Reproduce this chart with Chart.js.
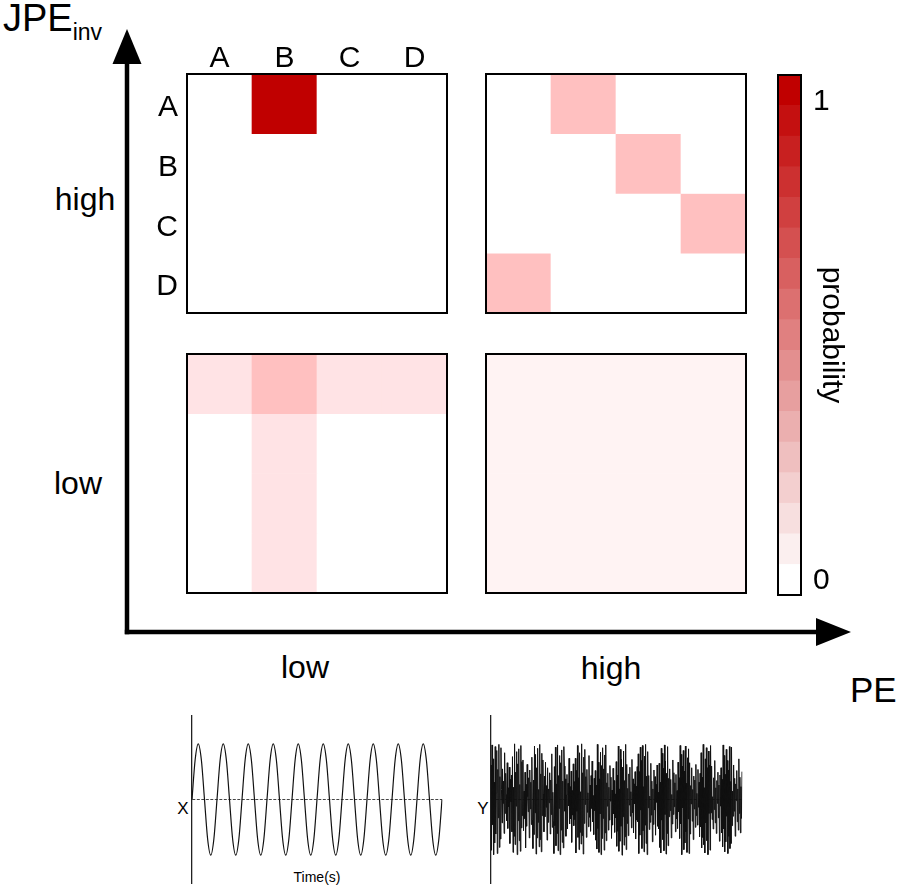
<!DOCTYPE html>
<html>
<head>
<meta charset="utf-8">
<script src="https://cdn.jsdelivr.net/npm/chart.js@4.4.1/dist/chart.umd.min.js"></script>
<style>
  body { margin: 0; background: #fff; }
  #fig { position: relative; width: 902px; height: 888px; overflow: hidden;
         font-family: "Liberation Sans", Arial, sans-serif; color: #000; }
  #fig canvas { position: absolute; }
  .lbl { position: absolute; white-space: nowrap; line-height: 1; transform: translate(-50%, -50%); }
</style>
</head>
<body>
<div id="fig">
  <svg width="902" height="888" style="position:absolute;left:0;top:0">
    <line x1="127" y1="60" x2="127" y2="634.2" stroke="#000" stroke-width="4.5"/>
    <polygon points="127,29 112.5,64 141.5,64" fill="#000"/>
    <line x1="124.8" y1="632" x2="820" y2="632" stroke="#000" stroke-width="4.5"/>
    <polygon points="851,632 816,618 816,646" fill="#000"/>
  </svg>

  <div style="position:absolute;left:3px;top:-1px;font-size:38px;line-height:1;white-space:nowrap">JPE<span style="font-size:23px;vertical-align:-9px">inv</span></div>
  <div class="lbl" style="left:85px;top:199px;font-size:32px">high</div>
  <div class="lbl" style="left:78px;top:483px;font-size:32px">low</div>
  <div class="lbl" style="left:305px;top:667px;font-size:32px">low</div>
  <div class="lbl" style="left:611px;top:668px;font-size:32px">high</div>
  <div style="position:absolute;left:850px;top:672px;font-size:35px;line-height:1">PE</div>
  <div class="lbl" style="left:183px;top:808px;font-size:17px">X</div>
  <div class="lbl" style="left:483px;top:808px;font-size:17px">Y</div>
  <div class="lbl" style="left:317px;top:877px;font-size:14px">Time(s)</div>

  <canvas id="pHighLow" width="309" height="285" style="left:140px;top:30px"></canvas>
  <canvas id="pHighHigh" width="264" height="243" style="left:484px;top:72px"></canvas>
  <canvas id="pLowLow" width="264" height="243" style="left:185px;top:352px"></canvas>
  <canvas id="pLowHigh" width="264" height="243" style="left:484px;top:352px"></canvas>
  <canvas id="colorbar" width="73" height="524" style="left:776px;top:73px"></canvas>
  <canvas id="sine" width="254" height="171" style="left:190px;top:714px"></canvas>
  <canvas id="noise" width="255" height="171" style="left:489px;top:714px"></canvas>
</div>

<script>
// symbols of the ordinal patterns
const colLabels = ['A', 'B', 'C', 'D'];
const rowLabels = ['A', 'B', 'C', 'D'];

// transition probabilities, rows = current pattern, columns = next pattern
const highJpeLowPe = [
  [0, 1, 0, 0],
  [0, 0, 0, 0],
  [0, 0, 0, 0],
  [0, 0, 0, 0]
];
const highJpeHighPe = [
  [0, 0.25, 0, 0],
  [0, 0, 0.25, 0],
  [0, 0, 0, 0.25],
  [0.25, 0, 0, 0]
];
const lowJpeLowPe = [
  [0.125, 0.25, 0.125, 0.125],
  [0, 0.125, 0, 0],
  [0, 0.125, 0, 0],
  [0, 0.125, 0, 0]
];
const lowJpeHighPe = [
  [0.0625, 0.0625, 0.0625, 0.0625],
  [0.0625, 0.0625, 0.0625, 0.0625],
  [0.0625, 0.0625, 0.0625, 0.0625],
  [0.0625, 0.0625, 0.0625, 0.0625]
];

const colorbarLevels = [0, 0.0625, 0.125, 0.1875, 0.25, 0.3125, 0.375, 0.4375, 0.5,
  0.5625, 0.625, 0.6875, 0.75, 0.8125, 0.875, 0.9375, 1];
const colorbarTicks = [0, 1];

// example signals
const signalX = [
  0, 0.71, 1, 0.71, 0, -0.71, -1, -0.71,
  0, 0.71, 1, 0.71, 0, -0.71, -1, -0.71,
  0, 0.71, 1, 0.71, 0, -0.71, -1, -0.71,
  0, 0.71, 1, 0.71, 0, -0.71, -1, -0.71,
  0, 0.71, 1, 0.71, 0, -0.71, -1, -0.71,
  0, 0.71, 1, 0.71, 0, -0.71, -1, -0.71,
  0, 0.71, 1, 0.71, 0, -0.71, -1, -0.71,
  0, 0.71, 1, 0.71, 0, -0.71, -1, -0.71,
  0, 0.71, 1, 0.71, 0, -0.71, -1, -0.71,
  0, 0.71, 1, 0.71, 0, -0.71, -1, -0.71,
  0
];
const signalY = [
  0.62, -0.91, 0.98, -0.45, 0.73, -0.99, 0.31, -0.78, 0.95, -0.62, 0.12, 0.88, -0.97, 0.54, -0.33, 0.99, -0.86, 0.41, -0.71, 0.93,
  0.18, -0.42, 0.55, -0.07, 0.33, -0.61, 0.84, -0.25, 0.47, 0.09, -0.38, 0.66, -0.52, 0.21, -0.13, 0.58, -0.79, 0.36, -0.04, 0.44,
  -0.58, 0.77, -0.95, 0.22, -0.66, 1.0, -0.81, 0.49, -0.12, 0.86, -0.99, 0.64, -0.38, 0.91, -0.74, 0.27, -0.93, 0.97, -0.51, 0.68,
  -0.29, 0.71, -0.56, 0.15, -0.34, 0.49, -0.87, 0.27, -0.48, 0.63, 0.05, -0.22, 0.39, -0.69, 0.53, -0.17, 0.31, -0.45, 0.76, -0.36,
  -0.88, 0.35, -0.63, 0.96, -0.24, 0.81, -0.98, 0.57, -0.69, 0.92, -0.41, 0.18, -0.85, 0.99, -0.72, 0.46, -0.94, 0.83, -0.29, 0.71,
  0.11, -0.58, 0.42, -0.31, 0.67, -0.14, 0.25, -0.73, 0.57, -0.41, 0.19, -0.06, 0.48, -0.62, 0.35, -0.27, 0.82, -0.5, 0.13, -0.39,
  -0.97, 0.59, -0.47, 0.94, -0.83, 0.28, -0.61, 0.98, -0.92, 0.43, -0.16, 0.79, -0.99, 0.66, -0.55, 0.89, -0.77, 0.33, -0.87, 0.95,
  0.6, -0.21, 0.37, -0.66, 0.08, 0.45, -0.53, 0.29, -0.11, 0.74, -0.44, 0.23, -0.35, 0.51, -0.77, 0.16, -0.28, 0.64, -0.47, 0.32,
  -0.36, 0.74, -0.96, 0.52, -0.21, 0.97, -0.68, 0.39, -0.9, 0.84, -0.59, 0.14, -0.8, 1.0, -0.65, 0.48, -0.98, 0.76, -0.43, 0.9,
  -0.09, 0.41, -0.68, 0.54, -0.23, 0.12, -0.49, 0.79, -0.32, 0.26, -0.57, 0.43, -0.16, 0.69, -0.4, 0.07, -0.63, 0.38, -0.2, 0.52,
  -0.73, 0.26, -0.89, 0.99, -0.52, 0.67, -0.95, 0.37, -0.26, 0.85, -0.99, 0.61, -0.7, 0.93, -0.34, 0.55, -0.91, 0.8, -0.6, 0.98,
  -0.74, 0.3, -0.12, 0.47, -0.55, 0.22, -0.37, 0.61, -0.03, 0.4, -0.7, 0.17, -0.46, 0.56, -0.26, 0.34, -0.59, 0.1, -0.33, 0.68,
  -0.84, 0.44, -0.57, 0.96, -0.93, 0.19, -0.75, 0.9, -0.48, 0.72, -1.0, 0.58, -0.31, 0.87, -0.82, 0.34, -0.67, 0.99, -0.9, 0.63,
  -0.43, 0.2, -0.65, 0.46, -0.1, 0.58, -0.3, 0.14, -0.51, 0.72, -0.24, 0.37, -0.6, 0.28, -0.08, 0.5, -0.71, 0.24, -0.37, 0.59,
  -0.4, 0.82, -0.97, 0.5, -0.64, 0.94, -0.19, 0.7, -0.88, 0.97, -0.56, 0.23, -0.94, 0.78, -0.46, 0.99, -0.79, 0.42, -0.99, 0.86,
  -0.15, 0.43, -0.54, 0.06, -0.41, 0.65, -0.28, 0.33, -0.76, 0.19, -0.45, 0.53, -0.19, 0.41, -0.64, 0.27, -0.05, 0.62, -0.48, 0.13,
  -0.53, 0.65, -0.86, 0.31, -0.96, 0.92, -0.37, 0.83, -0.72, 0.56, -0.92, 0.98, -0.27, 0.69, -0.98, 0.47, -0.61, 0.95, -0.83, 0.38,
  -0.31, 0.55, -0.2, 0.36, -0.69, 0.09, -0.44, 0.71, -0.27, 0.48, -0.13, 0.3, -0.58, 0.45, -0.35, 0.16, -0.52, 0.67, -0.22, 0.39,
  -0.7, 0.97, -0.44, 0.81, -0.99, 0.6, -0.15, 0.88, -0.9, 0.51, -0.78, 0.96, -0.58, 0.29, -0.95, 0.75, -0.35, 0.91, -0.97, 0.66,
  -0.62, 0.25, -0.08, 0.57, -0.39, 0.18, -0.72, 0.42, -0.17, 0.35, -0.5, 0.63, -0.29, 0.11, -0.46, 0.54, -0.14, 0.31, -0.67, 0.47,
  -0.49, 0.84, -0.87, 0.4, -0.68, 0.99, -0.81, 0.21, -0.96, 0.73, -0.42, 0.93, -0.74, 0.57, -0.99, 0.87, -0.25, 0.62, -0.91, 0.97,
  -0.24, 0.6, -0.36, 0.05, -0.53, 0.39, -0.18, 0.7, -0.42, 0.21, -0.61, 0.34, -0.07, 0.49, -0.33, 0.26, -0.75, 0.44, -0.12, 0.57,
  -0.6, 0.36, -0.85, 0.98, -0.53, 0.79, -0.94, 0.45, -0.76, 0.9, -0.3, 0.7, -0.97, 0.53, -0.66, 0.95, -0.88, 0.32, -0.79, 0.94,
  -0.47, 0.15, -0.3, 0.62, -0.21, 0.38, -0.66, 0.28, -0.02, 0.52, -0.4, 0.19, -0.55, 0.73, -0.25, 0.4, -0.6, 0.23, -0.34, 0.5
];

Chart.defaults.font.family = '"Liberation Sans", Arial, sans-serif';
Chart.defaults.color = '#000';

// cell colours: white -> pink -> dark red
function cellColor(v) {
  const stops = [[0, [255, 255, 255]], [0.0625, [255, 243, 243]], [0.125, [255, 227, 229]],
                 [0.25, [255, 192, 192]], [1, [192, 0, 0]]];
  for (let i = 1; i < stops.length; i++) {
    if (v <= stops[i][0]) {
      const [a, ca] = stops[i - 1], [b, cb] = stops[i];
      const t = (v - a) / (b - a);
      const c = ca.map((x, k) => Math.round(x + (cb[k] - x) * t));
      return 'rgb(' + c.join(',') + ')';
    }
  }
  return 'rgb(192,0,0)';
}
// colour bar ramp (as drawn in the legend)
function rampColor(v) {
  return 'rgb(' + Math.round(255 - 63 * v) + ',' + Math.round(255 - 255 * v) + ',' + Math.round(255 - 255 * v) + ')';
}

const frame = {
  id: 'frame',
  afterDraw(chart) {
    const { ctx, chartArea: a } = chart;
    ctx.save();
    ctx.strokeStyle = '#000';
    ctx.lineWidth = 2;
    ctx.strokeRect(a.left, a.top, a.right - a.left, a.bottom - a.top);
    ctx.restore();
  }
};

const base = {
  responsive: false,
  animation: false,
  devicePixelRatio: 1,
  plugins: { legend: { display: false }, tooltip: { enabled: false } }
};

// stop the tick labels from shrinking the plot area
function noEdgePadding(s) {
  s.paddingTop = 0; s.paddingBottom = 0; s.paddingLeft = 0; s.paddingRight = 0;
}

function heatmap(id, matrix, withTicks) {
  const datasets = matrix.map((row, r) => ({
    data: row.map(() => [r, r + 1]),
    backgroundColor: row.map(cellColor),
    grouped: false,
    barPercentage: 1,
    categoryPercentage: 1,
    borderWidth: 0
  }));
  const x = { display: withTicks, position: 'top',
              grid: { display: false, drawTicks: false }, border: { display: false },
              ticks: { font: { size: 30 }, color: '#000', padding: -3, maxRotation: 0 } };
  const y = { display: withTicks, min: 0, max: 4, reverse: true,
              grid: { display: false, drawTicks: false }, border: { display: false },
              ticks: { font: { size: 30 }, color: '#000', padding: 9, labelOffset: 4,
                       callback: (v, i) => rowLabels[i] },
              afterBuildTicks: s => { s.ticks = rowLabels.map((_, i) => ({ value: i + 0.5 })); } };
  if (withTicks) {
    x.afterFit = s => { s.height = 44; noEdgePadding(s); };
    y.afterFit = s => { s.width = 47; noEdgePadding(s); };
  }
  new Chart(document.getElementById(id), {
    type: 'bar',
    data: { labels: colLabels, datasets },
    options: Object.assign({}, base, {
      layout: { padding: withTicks ? { top: 0, left: 0, right: 2, bottom: 2 } : 2 },
      scales: { x, y }
    }),
    plugins: [frame]
  });
}

heatmap('pHighLow', highJpeLowPe, true);
heatmap('pHighHigh', highJpeHighPe, false);
heatmap('pLowLow', lowJpeLowPe, false);
heatmap('pLowHigh', lowJpeHighPe, false);

// colour bar
const cbMin = -0.03, cbMax = 1.055;
const cbStep = (cbMax - cbMin) / colorbarLevels.length;
new Chart(document.getElementById('colorbar'), {
  type: 'bar',
  data: {
    labels: [''],
    datasets: colorbarLevels.map((v, k) => ({
      data: [[cbMin + k * cbStep, cbMin + (k + 1) * cbStep]],
      backgroundColor: rampColor(v),
      grouped: false, barPercentage: 1, categoryPercentage: 1, borderWidth: 0
    }))
  },
  options: Object.assign({}, base, {
    layout: { padding: { left: 2, top: 2, bottom: 2, right: 0 } },
    scales: {
      x: { display: false },
      y: { position: 'right', min: cbMin, max: cbMax,
           grid: { display: false, drawTicks: false }, border: { display: false },
           ticks: { font: { size: 30 }, color: '#000', padding: 12 },
           afterBuildTicks: s => { s.ticks = colorbarTicks.map(v => ({ value: v })); },
           title: { display: true, text: 'probability', font: { size: 30 }, color: '#000', padding: 0 },
           afterFit: s => { s.width = 48; noEdgePadding(s); } }
    }
  }),
  plugins: [frame]
});

function trace(id, values, width, smooth) {
  new Chart(document.getElementById(id), {
    type: 'line',
    data: {
      labels: values.map((_, i) => i),
      datasets: [{ data: values, borderColor: '#111', borderWidth: width, pointRadius: 0,
                   cubicInterpolationMode: smooth ? 'monotone' : 'default', tension: 0 }]
    },
    options: Object.assign({}, base, {
      layout: { padding: 2 },
      scales: {
        x: { display: false },
        y: { min: -1.5, max: 1.5,
             grid: { color: '#444', lineWidth: 1, drawTicks: false },
             border: { color: '#222', width: 1.3, dash: [3, 1.5] },
             ticks: { display: false },
             afterBuildTicks: s => { s.ticks = [{ value: 0 }]; },
             afterFit: s => { s.width = 0; noEdgePadding(s); } }
      }
    })
  });
}
trace('sine', signalX, 1.2, true);
trace('noise', signalY, 1, false);
</script>
</body>
</html>
